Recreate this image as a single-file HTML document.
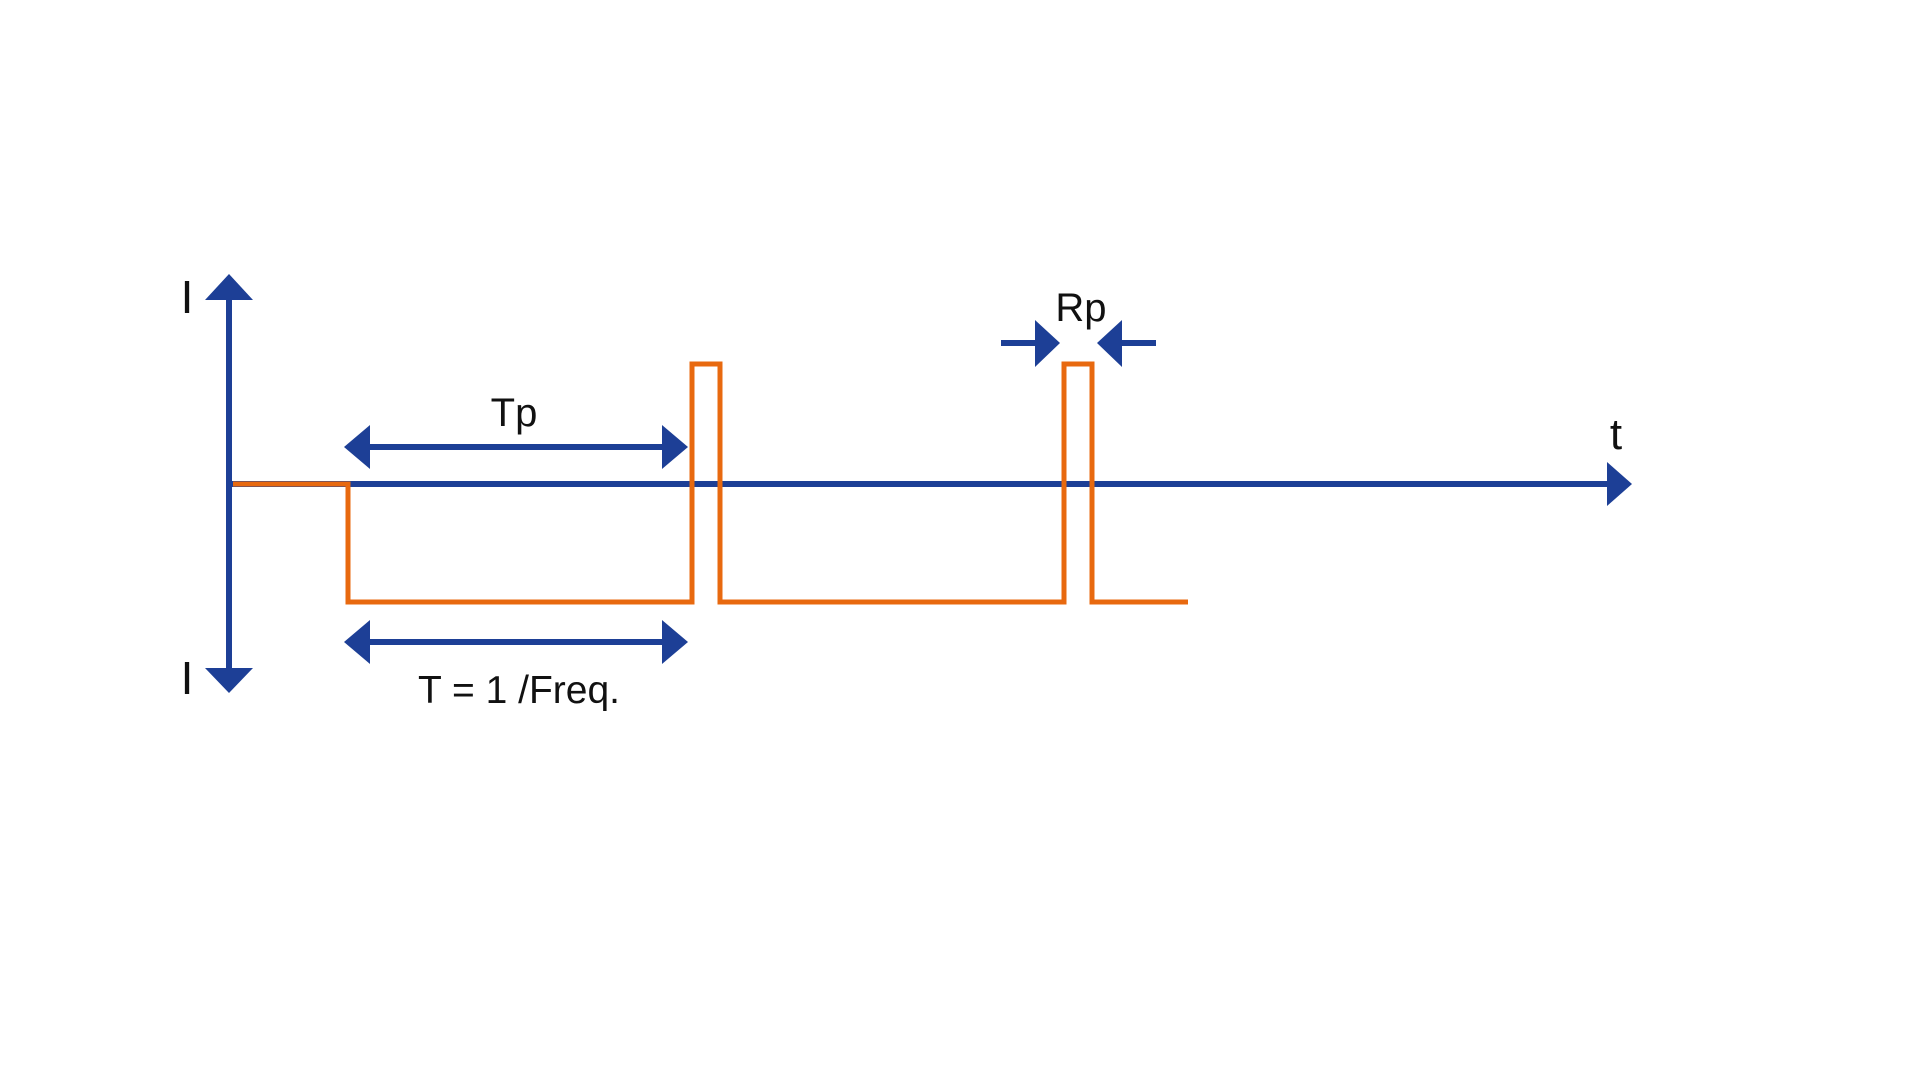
<!DOCTYPE html>
<html><head><meta charset="utf-8"><style>
html,body{margin:0;padding:0;background:#fff;}
svg{display:block;}
text{font-family:"Liberation Sans",sans-serif;fill:#111;}
</style></head><body>
<svg width="1920" height="1080" viewBox="0 0 1920 1080">
<rect width="1920" height="1080" fill="#fff"/>
<g stroke="#1d3f96" stroke-width="6" fill="none">
<line x1="229" y1="296" x2="229" y2="672"/>
<line x1="229" y1="484" x2="1610" y2="484"/>
<line x1="366" y1="447" x2="666" y2="447"/>
<line x1="366" y1="642" x2="666" y2="642"/>
<line x1="1001" y1="343" x2="1040" y2="343"/>
<line x1="1118" y1="343" x2="1156" y2="343"/>
</g>
<g fill="#1d3f96">
<polygon points="229,274 205,300 253,300"/>
<polygon points="229,693 205,668 253,668"/>
<polygon points="1632,484 1607,462 1607,506"/>
<polygon points="344,447 370,425 370,469"/>
<polygon points="688,447 662,425 662,469"/>
<polygon points="344,642 370,620 370,664"/>
<polygon points="688,642 662,620 662,664"/>
<polygon points="1060,343 1035,320 1035,367"/>
<polygon points="1097,343 1122,320 1122,367"/>
</g>
<polyline points="233,484 348,484 348,602 692,602 692,364 720,364 720,602 1064,602 1064,364 1092,364 1092,602 1188,602" fill="none" stroke="#e8690f" stroke-width="5"/>
<text x="187" y="313" font-size="46" text-anchor="middle">I</text>
<text x="187" y="694" font-size="46" text-anchor="middle">I</text>
<text x="514" y="426" font-size="40" text-anchor="middle">Tp</text>
<text x="1081" y="321" font-size="40" text-anchor="middle">Rp</text>
<text x="1616" y="449" font-size="44" text-anchor="middle">t</text>
<text x="519" y="703" font-size="39" text-anchor="middle">T = 1 /Freq.</text>
</svg>
</body></html>
